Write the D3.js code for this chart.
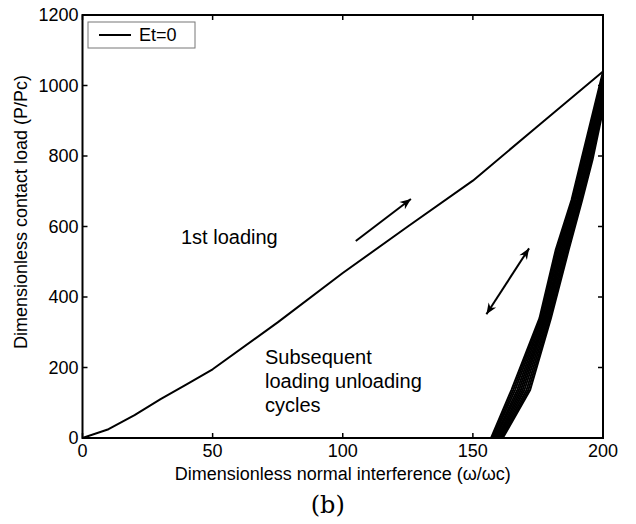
<!DOCTYPE html>
<html>
<head>
<meta charset="utf-8">
<script src="https://cdn.jsdelivr.net/npm/d3@7"></script>
<style>
  html, body { margin: 0; padding: 0; background: #fff; }
  svg { display: block; }
  text { font-family: "Liberation Sans", Arial, sans-serif; fill: #000; }
</style>
</head>
<body>
<svg id="chart" width="636" height="524"></svg>
<script>
// First loading curve: dimensionless interference vs dimensionless load
const loadingX = [0, 10, 20, 30, 40, 50, 75, 100, 125, 150, 175, 200];
const loadingP = [0, 25, 65, 110, 152, 195, 328, 468, 600, 730, 885, 1040];

// Subsequent loading/unloading cycles: x position of each cycle curve at these load levels,
// every curve ending at the maximum interference (200) with its own peak load
const cycleLevels = [0, 136, 340, 533, 675, 790];
const cycleX = [
  [157.0, 164.8, 175.6, 181.8, 187.9, 191.7],
  [157.5, 165.5, 176.0, 182.3, 188.3, 192.1],
  [157.9, 166.2, 176.5, 182.8, 188.7, 192.6],
  [158.4, 167.0, 176.9, 183.3, 189.1, 193.0],
  [158.8, 167.7, 177.4, 183.8, 189.5, 193.4],
  [159.3, 168.4, 177.8, 184.3, 190.0, 193.9],
  [159.7, 169.1, 178.2, 184.8, 190.4, 194.3],
  [160.2, 169.8, 178.7, 185.3, 190.8, 194.7],
  [160.6, 170.6, 179.1, 185.8, 191.2, 195.1],
  [161.1, 171.3, 179.6, 186.3, 191.6, 195.6],
  [161.5, 172.0, 180.0, 186.8, 192.0, 196.0]
];
const cyclePeaks = [1040, 1029, 1018, 1007, 996, 985, 974, 963, 952, 941, 930];
const cycleMaxX = 200;

// Axis ticks
const xTicks = [0, 50, 100, 150, 200];
const yTicks = [0, 200, 400, 600, 800, 1000, 1200];

// Direction arrows (data coordinates): [x1, y1, x2, y2]
const loadArrow = [105, 559, 126.2, 678];
const cycleArrow = [155.2, 351, 171.6, 538];

const svg = d3.select("#chart");
const margin = { left: 82.5, right: 33, top: 15, bottom: 86 };
const W = 636, H = 524;

const x = d3.scaleLinear().domain([0, 200]).range([margin.left, W - margin.right]);
const y = d3.scaleLinear().domain([0, 1200]).range([H - margin.bottom, margin.top]);

const plotL = x(0), plotR = x(200), plotT = y(1200), plotB = y(0);

svg.append("defs").append("clipPath").attr("id", "plotClip")
  .append("rect").attr("x", plotL).attr("y", plotT)
  .attr("width", plotR - plotL).attr("height", plotB - plotT);

const line = d3.line().x(d => x(d[0])).y(d => y(d[1]));

const plot = svg.append("g").attr("clip-path", "url(#plotClip)");

// loading / unloading cycles
cycleX.forEach((xs, i) => {
  const pts = xs.map((v, j) => [v, cycleLevels[j]]);
  pts.push([cycleMaxX, cyclePeaks[i]]);
  plot.append("path").attr("d", line(pts))
    .attr("fill", "none").attr("stroke", "#000").attr("stroke-width", 2)
    .attr("stroke-linejoin", "round");
});

// first loading
plot.append("path")
  .attr("d", line(loadingX.map((v, i) => [v, loadingP[i]])))
  .attr("fill", "none").attr("stroke", "#000").attr("stroke-width", 2)
  .attr("stroke-linejoin", "round");

// axes (box with inward ticks on all sides)
const tickLen = 5;
const axes = svg.append("g");
axes.append("rect").attr("x", plotL).attr("y", plotT)
  .attr("width", plotR - plotL).attr("height", plotB - plotT)
  .attr("fill", "none").attr("stroke", "#000").attr("stroke-width", 2);

xTicks.forEach(t => {
  const px = x(t);
  axes.append("line").attr("x1", px).attr("x2", px).attr("y1", plotB).attr("y2", plotB - tickLen)
    .attr("stroke", "#000").attr("stroke-width", 1.5);
  axes.append("line").attr("x1", px).attr("x2", px).attr("y1", plotT).attr("y2", plotT + tickLen)
    .attr("stroke", "#000").attr("stroke-width", 1.5);
  axes.append("text").attr("x", px).attr("y", plotB + 19)
    .attr("text-anchor", "middle").attr("font-size", 18).text(t);
});

yTicks.forEach(t => {
  const py = y(t);
  axes.append("line").attr("x1", plotL).attr("x2", plotL + tickLen).attr("y1", py).attr("y2", py)
    .attr("stroke", "#000").attr("stroke-width", 1.5);
  axes.append("line").attr("x1", plotR).attr("x2", plotR - tickLen).attr("y1", py).attr("y2", py)
    .attr("stroke", "#000").attr("stroke-width", 1.5);
  axes.append("text").attr("x", plotL - 4).attr("y", py).attr("dy", "0.36em")
    .attr("text-anchor", "end").attr("font-size", 18).text(t);
});

// axis titles
svg.append("text").attr("x", (plotL + plotR) / 2).attr("y", plotB + 42)
  .attr("text-anchor", "middle").attr("font-size", 18)
  .text("Dimensionless normal interference (\u03c9/\u03c9c)");

svg.append("text")
  .attr("transform", "translate(27,212) rotate(-90)")
  .attr("text-anchor", "middle").attr("font-size", 18)
  .text("Dimensionless contact load (P/Pc)");

svg.append("text").attr("x", (plotL + plotR) / 2 - 15).attr("y", 513)
  .attr("text-anchor", "middle").attr("font-size", 24)
  .style("font-family", "'DejaVu Serif', serif")
  .text("(b)");

// legend
const lg = svg.append("g");
lg.append("rect").attr("x", 88).attr("y", 22).attr("width", 107).attr("height", 26)
  .attr("fill", "#fff").attr("stroke", "#777").attr("stroke-width", 1);
lg.append("line").attr("x1", 99).attr("x2", 131).attr("y1", 35).attr("y2", 35)
  .attr("stroke", "#000").attr("stroke-width", 2);
lg.append("text").attr("x", 139).attr("y", 35).attr("dy", "0.36em")
  .attr("font-size", 18).text("Et=0");

// annotations
svg.append("text").attr("x", 181).attr("y", 244).attr("font-size", 20).text("1st loading");
const sub = svg.append("text").attr("font-size", 20);
["Subsequent", "loading unloading", "cycles"].forEach((s, i) => {
  sub.append("tspan").attr("x", 265).attr("y", 364 + i * 24).text(s);
});

// arrows
function arrowHead(xTip, yTip, xFrom, yFrom) {
  const ang = Math.atan2(yTip - yFrom, xTip - xFrom);
  const len = 11, half = 4.5;
  const bx = xTip - len * Math.cos(ang), by = yTip - len * Math.sin(ang);
  const nx = -Math.sin(ang) * half, ny = Math.cos(ang) * half;
  const notchX = xTip - len * 0.7 * Math.cos(ang), notchY = yTip - len * 0.7 * Math.sin(ang);
  svg.append("path")
    .attr("d", `M${xTip},${yTip}L${bx + nx},${by + ny}L${notchX},${notchY}L${bx - nx},${by - ny}Z`)
    .attr("fill", "#000");
}
function drawArrow(a, both) {
  const x1 = x(a[0]), y1 = y(a[1]), x2 = x(a[2]), y2 = y(a[3]);
  svg.append("line").attr("x1", x1).attr("y1", y1).attr("x2", x2).attr("y2", y2)
    .attr("stroke", "#000").attr("stroke-width", 2);
  arrowHead(x2, y2, x1, y1);
  if (both) arrowHead(x1, y1, x2, y2);
}
drawArrow(loadArrow, false);
drawArrow(cycleArrow, true);
</script>
</body>
</html>
